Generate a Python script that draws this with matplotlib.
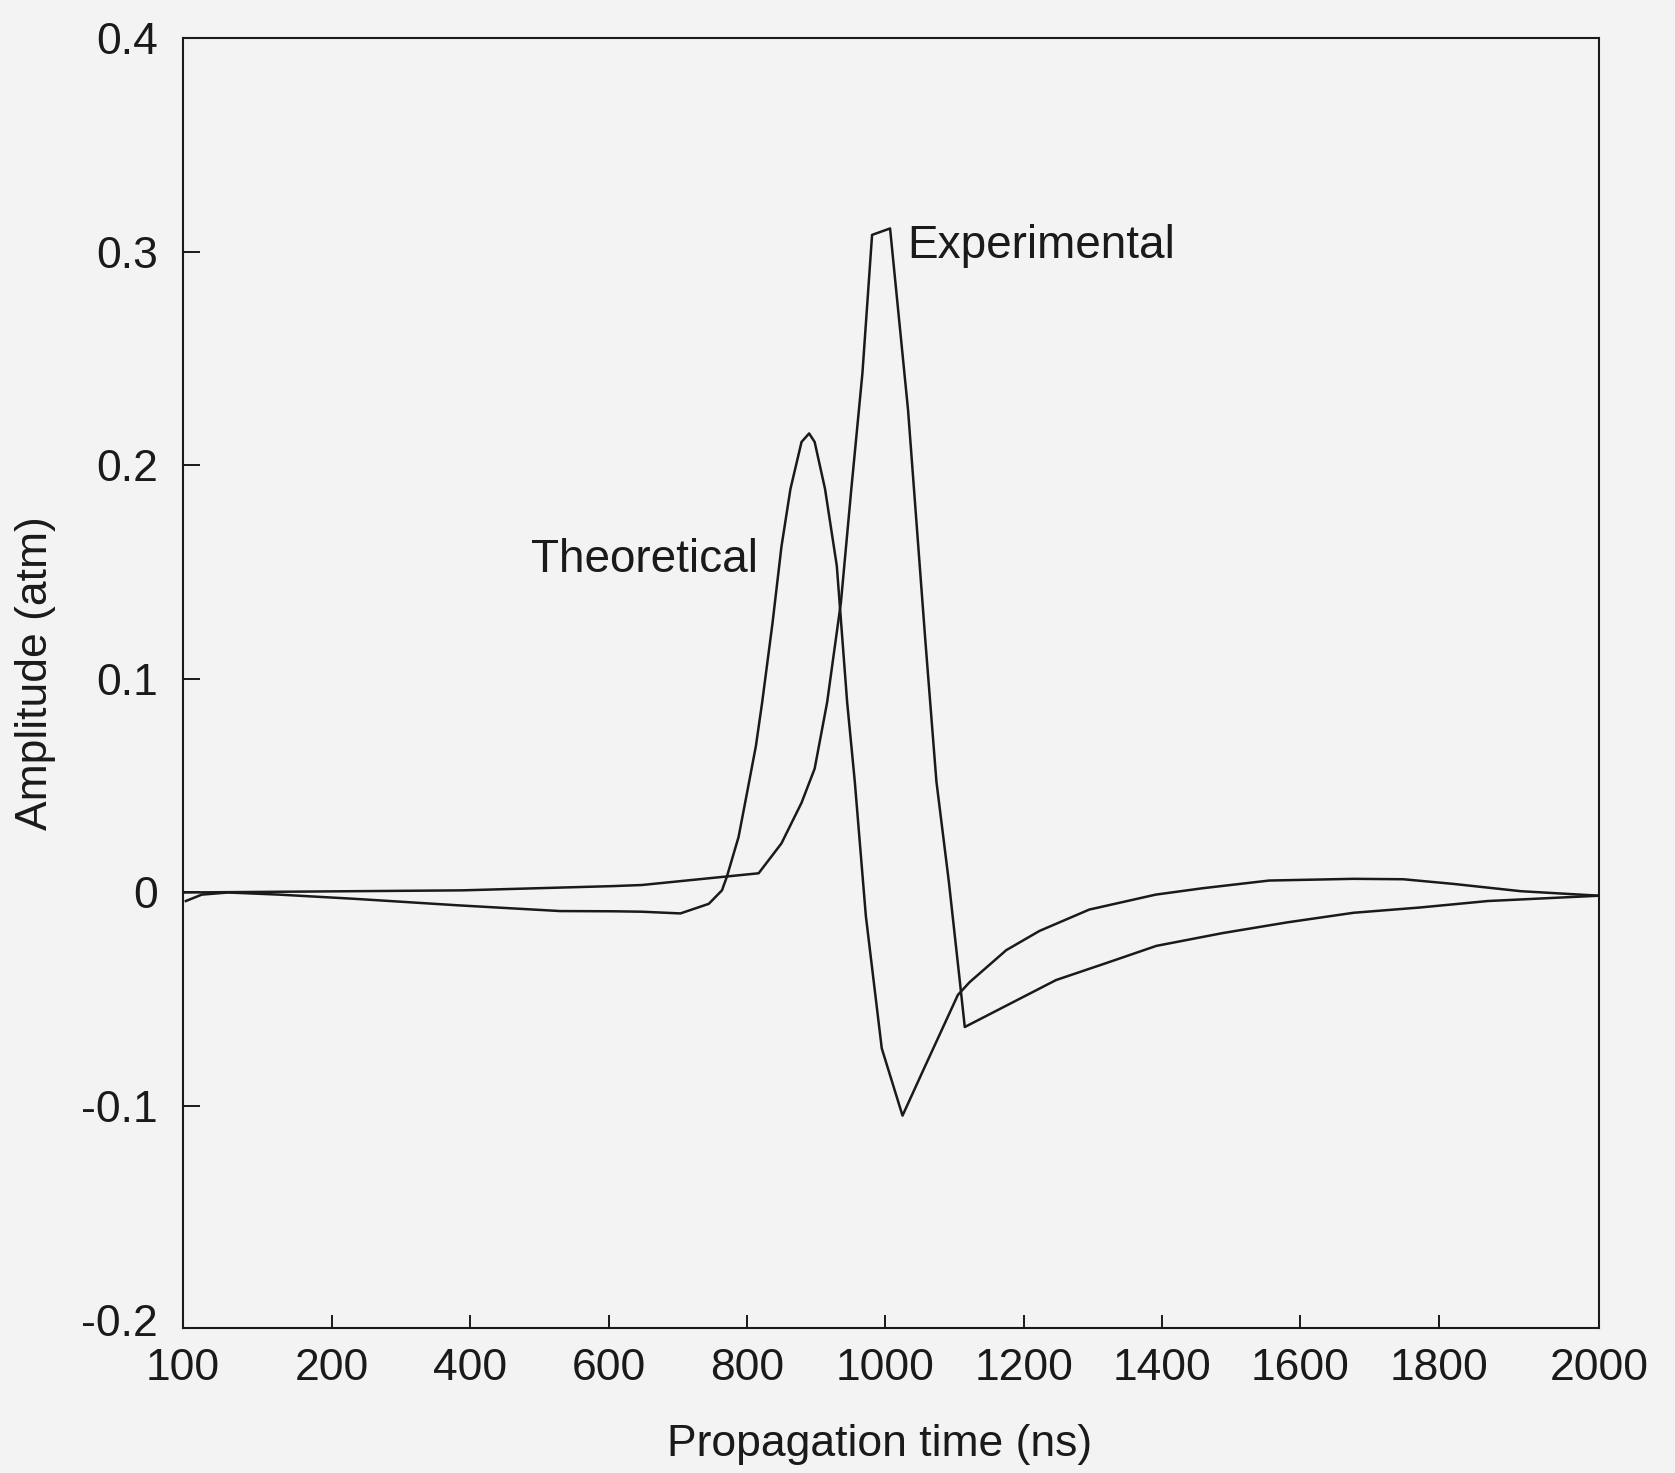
import matplotlib
matplotlib.use('Agg')
import matplotlib.pyplot as plt

# values (time in ns, amplitude in atm)
time_exp = [-13, 388, 607, 648, 817, 850, 879, 898, 916, 936, 951, 967, 981, 1007,
            1033, 1058, 1074, 1092, 1108, 1115, 1151, 1199, 1247, 1320, 1392, 1488,
            1581, 1677, 1774, 1871, 2032]
amp_exp = [0.000, 0.001, 0.003, 0.0035, 0.009, 0.023, 0.042, 0.058, 0.089, 0.136, 0.189,
           0.243, 0.308, 0.311, 0.226, 0.118, 0.052, 0.005, -0.042, -0.063, -0.057,
           -0.049, -0.041, -0.033, -0.025, -0.019, -0.014, -0.0095, -0.007, -0.004, -0.0015]

time_theory = [-11, 12, 50, 124, 235, 382, 530, 607, 648, 704, 745, 764, 771, 788, 801,
               813, 822, 837, 850, 863, 879, 890, 898, 913, 930, 945, 956, 972, 995, 1025,
               1056, 1105, 1122, 1175, 1223, 1295, 1391, 1459, 1555, 1677, 1749, 1822,
               1919, 2032]
amp_theory = [-0.004, -0.001, 0.000, -0.001, -0.003, -0.006, -0.0087, -0.0088, -0.009,
              -0.0098, -0.0053, 0.001, 0.0073, 0.026, 0.048, 0.0685, 0.0888, 0.126, 0.162,
              0.189, 0.211, 0.215, 0.211, 0.189, 0.153, 0.089, 0.052, -0.011, -0.073,
              -0.1045, -0.0825, -0.048, -0.042, -0.027, -0.018, -0.008, -0.001, 0.002,
              0.0056, 0.0064, 0.0062, 0.004, 0.0006, -0.0015]

x_ticks = [-15, 200, 400, 600, 800, 1000, 1200, 1400, 1600, 1800, 2032]
x_tick_labels = ['100', '200', '400', '600', '800', '1000', '1200', '1400', '1600', '1800', '2000']
y_ticks = [-0.2, -0.1, 0, 0.1, 0.2, 0.3, 0.4]
y_tick_labels = ['-0.2', '-0.1', '0', '0.1', '0.2', '0.3', '0.4']

ink = '#1a1a1a'
paper = '#f3f3f3'

plt.rcParams['font.family'] = ['Liberation Sans', 'DejaVu Sans']

fig = plt.figure(figsize=(16.75, 14.73), dpi=100)
fig.patch.set_facecolor(paper)
ax = fig.add_axes([0.1093, 0.0984, 0.8454, 0.8755])
ax.set_facecolor(paper)

ax.plot(time_theory, amp_theory, color=ink, linewidth=1.8)
ax.plot(time_exp, amp_exp, color=ink, linewidth=1.8)

ax.text(1032, 0.297, 'Experimental', fontsize=33, color=ink, ha='left', va='baseline')
ax.text(488, 0.150, 'Theoretical', fontsize=33, color=ink, ha='left', va='baseline')

ax.set_xlim(-15, 2032)
ax.set_ylim(-0.204, 0.4)
ax.set_xticks(x_ticks)
ax.set_xticklabels(x_tick_labels)
ax.set_yticks(y_ticks)
ax.set_yticklabels(y_tick_labels)

ax.tick_params(direction='in', width=1.4, color=ink, labelcolor=ink, labelsize=32)
ax.tick_params(axis='x', length=9.6, pad=14)
ax.tick_params(axis='y', length=12, pad=18)

# the end labels sit on the frame corners, no tick marks there
xt = ax.xaxis.get_major_ticks()
xt[0].tick1line.set_visible(False)
xt[-1].tick1line.set_visible(False)
yt = ax.yaxis.get_major_ticks()
yt[0].tick1line.set_visible(False)
yt[-1].tick1line.set_visible(False)

for s in ax.spines.values():
    s.set_linewidth(1.5)
    s.set_color(ink)

ax.set_xlabel('Propagation time (ns)', fontsize=32, color=ink)
ax.xaxis.set_label_coords(0.492, -0.0745)
ax.set_ylabel('Amplitude (atm)', fontsize=32, color=ink)
ax.yaxis.set_label_coords(-0.0897, 0.508)

fig.savefig('out.png', dpi=100, facecolor=fig.get_facecolor())
